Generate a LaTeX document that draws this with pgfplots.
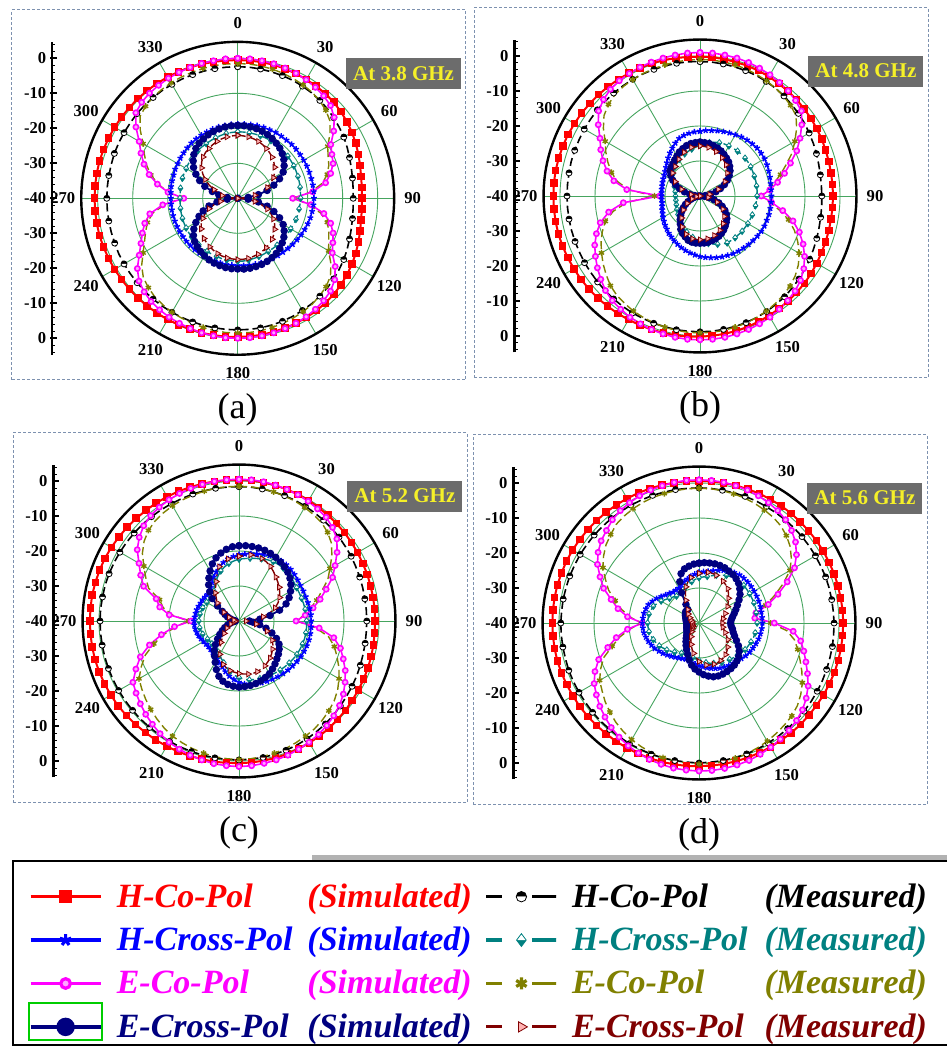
\documentclass[border=0pt]{standalone}
\usepackage{fontspec}
\setmainfont{Liberation Serif}
\usepackage{pgfplots}
\usepackage{pgfplotstable}
\pgfplotsset{compat=1.18}
\usetikzlibrary{plotmarks}

\definecolor{hcsC}{RGB}{255,0,0}
\definecolor{hxsC}{RGB}{0,0,255}
\definecolor{ecsC}{RGB}{255,0,255}
\definecolor{exsC}{RGB}{0,0,128}
\definecolor{hxmC}{RGB}{0,128,128}
\definecolor{ecmC}{RGB}{128,128,0}
\definecolor{exmC}{RGB}{128,0,0}
\definecolor{gridC}{RGB}{70,165,95}
\definecolor{frameC}{RGB}{125,145,175}
\definecolor{boxC}{RGB}{108,108,108}
\definecolor{boxtxt}{RGB}{245,240,40}
\definecolor{legboxC}{RGB}{0,205,0}

\newcommand{\ticklabelfont}{\bfseries\fontsize{8.3}{9}\selectfont}
\newcommand{\boxfont}{\bfseries\fontsize{10.5}{12}\selectfont}
\newcommand{\subfont}{\fontsize{18}{20}\selectfont}
\newcommand{\legfont}{\bfseries\itshape\fontsize{17}{20}\selectfont}

% radiation patterns in dB, one row per 5 degrees (angle clockwise from 0)
% hcs/hxs/ecs/exs: simulated, hcm/hxm/ecm/exm: measured
\pgfplotstableread{
a    hcs   hcm   hxs    hxm    ecs    ecm    exs    exm
0    -0.5  -2.4  -18.8  -21.0  0.0    -1.5   -19.2  -22.0
5    -0.5  -2.4  -18.7  -21.0  0.0    -1.5   -19.2  -22.1
10   -0.5  -2.5  -18.6  -21.0  -0.1   -1.6   -19.3  -22.2
15   -0.5  -2.6  -18.5  -21.0  -0.2   -1.8   -19.4  -22.4
20   -0.6  -2.7  -18.4  -21.0  -0.4   -2.0   -19.6  -22.7
25   -0.7  -2.8  -18.4  -21.0  -0.6   -2.3   -19.9  -23.1
30   -0.8  -3.0  -18.3  -21.0  -0.9   -2.6   -20.3  -23.6
35   -0.9  -3.2  -18.3  -21.0  -1.3   -3.0   -20.8  -24.1
40   -1.0  -3.5  -18.3  -21.1  -1.8   -3.6   -21.3  -24.7
45   -1.2  -3.8  -18.2  -21.2  -2.5   -4.4   -22.0  -25.4
50   -1.5  -4.2  -18.2  -21.3  -4.0   -5.6   -22.8  -26.2
55   -1.9  -4.6  -18.2  -21.4  -6.5   -7.8   -23.8  -27.1
60   -2.3  -5.0  -18.2  -21.5  -9.3   -10.3  -25.0  -28.2
65   -2.8  -5.5  -18.2  -21.6  -10.3  -11.5  -26.8  -29.5
70   -3.3  -6.0  -18.2  -21.7  -11.0  -12.3  -29.0  -31.0
75   -3.8  -6.4  -18.2  -21.8  -12.5  -13.5  -31.3  -33.0
80   -4.2  -6.7  -18.2  -21.9  -14.5  -15.5  -34.0  -35.0
85   -4.4  -6.9  -18.2  -22.0  -18.5  -19.0  -37.0  -37.5
90   -4.5  -7.0  -18.2  -22.0  -24.3  -24.0  -40.0  -40.0
95   -4.4  -6.9  -18.3  -22.1  -19.0  -19.5  -37.0  -37.5
100  -4.2  -6.7  -18.4  -22.2  -15.0  -16.0  -34.0  -35.0
105  -3.8  -6.4  -18.5  -22.2  -12.5  -13.5  -31.3  -33.0
110  -3.3  -6.0  -18.7  -22.3  -11.0  -12.3  -29.0  -31.0
115  -2.8  -5.5  -18.9  -22.4  -10.0  -11.3  -26.8  -29.5
120  -2.3  -5.0  -19.1  -22.5  -8.8   -10.0  -25.0  -28.2
125  -1.9  -4.6  -19.3  -22.5  -6.0   -7.5   -23.8  -27.1
130  -1.5  -4.2  -19.5  -22.5  -3.8   -5.4   -22.8  -26.2
135  -1.2  -3.8  -19.7  -22.5  -2.5   -4.3   -22.0  -25.4
140  -1.0  -3.5  -19.9  -22.5  -1.8   -3.6   -21.3  -24.7
145  -0.8  -3.2  -20.0  -22.5  -1.3   -3.0   -20.8  -24.2
150  -0.7  -3.0  -20.2  -22.5  -0.9   -2.6   -20.4  -23.7
155  -0.6  -2.8  -20.3  -22.4  -0.6   -2.3   -20.1  -23.3
160  -0.5  -2.6  -20.4  -22.3  -0.4   -2.0   -19.9  -23.0
165  -0.5  -2.5  -20.5  -22.2  -0.2   -1.8   -19.8  -22.8
170  -0.4  -2.4  -20.6  -22.1  -0.1   -1.6   -19.7  -22.6
175  -0.4  -2.4  -20.7  -22.0  0.0    -1.5   -19.7  -22.5
180  -0.4  -2.4  -20.8  -22.0  0.0    -1.5   -19.8  -22.5
185  -0.3  -2.4  -20.8  -22.1  0.0    -1.5   -19.8  -22.6
190  -0.3  -2.4  -20.8  -22.1  -0.1   -1.6   -19.9  -22.7
195  -0.2  -2.4  -20.9  -22.2  -0.2   -1.8   -20.1  -22.9
200  -0.2  -2.4  -20.9  -22.3  -0.4   -2.0   -20.3  -23.2
205  -0.1  -2.4  -20.9  -22.4  -0.6   -2.2   -20.6  -23.6
210  0.0   -2.4  -20.9  -22.5  -0.8   -2.4   -21.0  -24.0
215  0.1   -2.4  -20.9  -22.6  -1.1   -2.8   -21.5  -24.5
220  0.2   -2.4  -20.9  -22.7  -1.5   -3.2   -22.0  -25.0
225  0.3   -2.4  -20.9  -22.8  -2.2   -3.9   -22.6  -25.6
230  0.4   -2.5  -20.9  -22.8  -3.2   -4.8   -23.5  -26.4
235  0.5   -2.5  -20.9  -22.9  -5.0   -6.5   -24.7  -27.3
240  0.6   -2.5  -20.9  -23.0  -7.5   -8.8   -26.2  -28.5
245  0.7   -2.5  -20.9  -23.1  -9.5   -10.6  -27.8  -29.8
250  0.8   -2.6  -20.9  -23.2  -11.0  -12.0  -29.5  -31.3
255  0.9   -2.6  -20.9  -23.3  -12.5  -13.3  -31.5  -33.0
260  0.9   -2.6  -20.9  -23.4  -14.5  -15.3  -34.0  -35.0
265  0.9   -2.6  -20.9  -23.5  -18.5  -19.0  -37.0  -37.5
270  0.9   -2.6  -20.9  -23.5  -24.6  -24.0  -40.0  -40.0
275  0.9   -2.6  -20.8  -23.5  -20.0  -20.0  -37.0  -37.5
280  0.9   -2.6  -20.7  -23.4  -16.7  -17.0  -34.5  -35.5
285  0.9   -2.6  -20.6  -23.3  -13.8  -14.3  -32.5  -34.5
290  0.8   -2.5  -20.5  -23.2  -11.5  -12.3  -30.0  -32.8
295  0.7   -2.5  -20.3  -23.1  -9.5   -10.6  -28.0  -31.0
300  0.6   -2.5  -20.2  -23.0  -7.5   -8.8   -26.2  -29.3
305  0.5   -2.5  -20.0  -22.8  -4.5   -6.0   -24.6  -27.8
310  0.4   -2.4  -19.8  -22.7  -2.0   -3.6   -23.4  -26.5
315  0.3   -2.4  -19.6  -22.5  -1.2   -2.8   -22.3  -25.4
320  0.2   -2.4  -19.4  -22.3  -0.8   -2.3   -21.4  -24.6
325  0.1   -2.4  -19.3  -22.1  -0.6   -2.1   -20.8  -24.0
330  0.0   -2.4  -19.2  -22.0  -0.4   -1.9   -20.4  -23.6
335  -0.1  -2.4  -19.1  -21.8  -0.3   -1.8   -20.0  -23.1
340  -0.2  -2.4  -19.0  -21.6  -0.2   -1.7   -19.7  -22.7
345  -0.3  -2.4  -18.9  -21.4  -0.1   -1.6   -19.5  -22.4
350  -0.4  -2.4  -18.9  -21.2  -0.1   -1.5   -19.3  -22.2
355  -0.5  -2.4  -18.8  -21.1  0.0    -1.5   -19.2  -22.1
360  -0.5  -2.4  -18.8  -21.0  0.0    -1.5   -19.2  -22.0
}\patA

\pgfplotstableread{
a    hcs   hcm   hxs    hxm    ecs    ecm    exs    exm
0    -0.2  -1.6  -21.5  -25.5  1.0    -1.0   -24.6  -25.7
5    -0.2  -1.6  -21.2  -25.0  1.0    -1.0   -24.7  -25.8
10   -0.3  -1.7  -21.0  -24.5  0.9    -1.1   -24.8  -25.9
15   -0.4  -1.8  -20.7  -24.1  0.8    -1.2   -25.1  -26.2
20   -0.4  -1.9  -20.4  -23.8  0.6    -1.4   -25.4  -26.5
25   -0.5  -2.0  -20.1  -23.6  0.3    -1.7   -25.8  -26.9
30   -0.6  -2.2  -19.8  -23.5  0.0    -2.0   -26.3  -27.4
35   -0.8  -2.4  -19.4  -23.4  -0.4   -2.4   -26.8  -27.9
40   -0.9  -2.7  -19.1  -23.3  -0.8   -2.8   -27.3  -28.4
45   -1.0  -3.0  -18.9  -23.2  -1.4   -3.4   -28.0  -29.0
50   -1.2  -3.3  -18.7  -23.2  -2.2   -4.2   -28.8  -29.8
55   -1.3  -3.6  -18.7  -23.2  -4.5   -6.3   -29.8  -30.7
60   -1.5  -4.0  -18.7  -23.3  -7.0   -8.7   -31.0  -31.8
65   -1.6  -4.3  -18.9  -23.4  -9.5   -11.0  -32.3  -33.0
70   -1.8  -4.6  -19.1  -23.5  -12.5  -13.8  -33.8  -34.4
75   -1.9  -4.9  -19.3  -23.5  -15.0  -16.2  -35.3  -35.8
80   -2.0  -5.1  -19.5  -23.6  -17.5  -18.5  -36.9  -37.2
85   -2.0  -5.2  -19.6  -23.6  -20.0  -20.5  -38.5  -38.6
90   -2.0  -5.2  -19.6  -23.7  -22.5  -22.5  -40.0  -40.0
95   -2.0  -5.1  -19.6  -23.8  -19.5  -20.0  -38.7  -38.9
100  -2.0  -5.0  -19.6  -23.9  -16.0  -17.0  -37.3  -37.6
105  -1.9  -4.8  -19.6  -24.0  -12.5  -13.8  -35.8  -36.2
110  -1.8  -4.5  -19.7  -24.1  -9.8   -11.3  -34.3  -34.8
115  -1.7  -4.2  -19.7  -24.2  -7.5   -9.2   -33.0  -33.6
120  -1.5  -3.8  -19.8  -24.2  -5.5   -7.3   -31.8  -32.5
125  -1.3  -3.5  -20.0  -24.3  -3.8   -5.7   -30.8  -31.6
130  -1.1  -3.1  -20.2  -24.3  -2.5   -4.5   -30.0  -30.9
135  -1.0  -2.8  -20.4  -24.4  -1.6   -3.6   -29.4  -30.3
140  -0.8  -2.4  -20.6  -24.4  -1.0   -3.0   -28.8  -29.7
145  -0.7  -2.2  -20.8  -24.5  -0.5   -2.5   -28.2  -29.2
150  -0.5  -1.9  -21.0  -24.5  0.0    -2.0   -27.7  -28.7
155  -0.4  -1.7  -21.3  -24.9  0.3    -1.7   -27.3  -28.3
160  -0.2  -1.5  -21.5  -25.3  0.6    -1.4   -27.0  -28.0
165  -0.1  -1.4  -21.8  -25.8  0.8    -1.2   -26.8  -27.8
170  0.0   -1.3  -22.1  -26.2  1.0    -1.0   -26.6  -27.6
175  0.1   -1.2  -22.4  -26.6  1.1    -0.9   -26.5  -27.5
180  0.2   -1.2  -22.7  -27.0  1.1    -0.9   -26.5  -27.5
185  0.3   -1.2  -23.1  -27.5  1.1    -0.9   -26.5  -27.5
190  0.4   -1.2  -23.5  -28.0  1.0    -1.0   -26.6  -27.6
195  0.5   -1.3  -23.9  -28.5  0.8    -1.2   -26.9  -27.9
200  0.6   -1.3  -24.3  -29.0  0.6    -1.4   -27.6  -28.4
205  0.7   -1.4  -24.8  -29.5  0.3    -1.7   -28.2  -29.0
210  0.8   -1.4  -25.2  -30.0  0.0    -2.0   -29.0  -29.8
215  1.0   -1.5  -25.7  -30.5  -0.5   -2.5   -30.2  -30.8
220  1.1   -1.6  -26.1  -31.0  -1.0   -3.0   -31.2  -31.8
225  1.3   -1.7  -26.6  -31.4  -1.8   -3.8   -32.2  -32.8
230  1.4   -1.8  -27.0  -31.8  -3.0   -5.0   -33.2  -33.8
235  1.5   -1.9  -27.4  -32.1  -4.2   -6.2   -34.2  -34.8
240  1.6   -1.9  -27.8  -32.4  -5.5   -7.5   -35.2  -35.8
245  1.7   -2.0  -28.2  -32.6  -6.8   -8.8   -36.2  -36.8
250  1.8   -2.0  -28.5  -32.8  -8.5   -10.3  -37.2  -37.6
255  1.9   -2.0  -28.8  -32.9  -10.5  -12.0  -38.0  -38.4
260  1.9   -2.0  -29.0  -33.0  -13.5  -14.8  -38.8  -39.0
265  1.9   -2.0  -29.0  -33.0  -18.0  -19.0  -39.4  -39.5
270  1.9   -2.0  -29.0  -33.0  -28.5  -27.0  -40.0  -40.0
275  1.9   -2.0  -29.0  -32.9  -19.0  -19.5  -38.5  -38.8
280  1.9   -2.0  -28.9  -32.8  -15.0  -16.0  -37.0  -37.4
285  1.8   -1.9  -28.8  -32.5  -12.5  -13.8  -35.4  -35.9
290  1.7   -1.9  -28.6  -32.2  -10.5  -12.0  -33.8  -34.4
295  1.6   -1.9  -28.4  -31.6  -8.7   -10.3  -32.3  -33.0
300  1.4   -1.8  -28.2  -31.0  -7.0   -8.7   -31.0  -31.8
305  1.3   -1.8  -27.8  -30.5  -4.5   -6.3   -29.8  -30.7
310  1.1   -1.7  -27.3  -30.0  -2.2   -4.2   -28.8  -29.8
315  1.0   -1.7  -26.6  -29.5  -1.0   -3.0   -28.4  -29.4
320  0.8   -1.6  -25.8  -29.0  -0.2   -2.2   -28.0  -29.0
325  0.7   -1.6  -25.0  -28.5  0.2    -1.8   -27.4  -28.5
330  0.5   -1.5  -24.2  -28.0  0.4    -1.6   -26.8  -27.9
335  0.4   -1.5  -23.3  -27.6  0.6    -1.4   -26.1  -27.2
340  0.3   -1.5  -22.5  -27.2  0.7    -1.3   -25.6  -26.7
345  0.2   -1.5  -22.1  -26.8  0.8    -1.2   -25.1  -26.2
350  0.0   -1.5  -21.8  -26.4  0.9    -1.1   -24.8  -25.9
355  -0.1  -1.5  -21.6  -26.0  1.0    -1.0   -24.7  -25.8
360  -0.2  -1.6  -21.5  -25.5  1.0    -1.0   -24.6  -25.7
}\patB

\pgfplotstableread{
a    hcs   hcm   hxs    hxm    ecs    ecm    exs    exm
0    0.3   -1.6  -21.0  -22.3  0.5    -1.5   -18.5  -21.5
5    0.3   -1.6  -20.8  -22.1  0.5    -1.5   -18.4  -21.1
10   0.2   -1.7  -20.5  -21.8  0.4    -1.6   -18.4  -20.8
15   0.1   -1.8  -20.2  -21.5  0.2    -1.8   -18.4  -20.8
20   0.0   -1.9  -19.8  -21.1  0.0    -2.0   -18.5  -21.0
25   -0.1  -2.0  -19.4  -20.7  -0.2   -2.2   -18.7  -21.4
30   -0.2  -2.1  -19.1  -20.4  -0.5   -2.5   -19.0  -22.0
35   -0.4  -2.3  -19.0  -20.3  -0.9   -2.9   -19.4  -22.8
40   -0.5  -2.4  -19.0  -20.3  -1.3   -3.3   -19.8  -23.6
45   -0.6  -2.6  -19.1  -20.4  -2.2   -4.2   -20.3  -24.3
50   -0.7  -2.7  -19.3  -20.6  -3.5   -5.5   -21.0  -25.0
55   -0.8  -2.9  -19.5  -20.8  -5.8   -7.6   -21.9  -25.8
60   -0.9  -3.0  -19.7  -21.0  -8.3   -10.0  -23.0  -26.6
65   -1.0  -3.2  -19.7  -21.0  -10.5  -12.0  -24.2  -27.7
70   -1.0  -3.3  -19.7  -21.0  -13.5  -14.8  -25.7  -29.0
75   -1.1  -3.4  -19.6  -20.9  -16.0  -17.0  -28.0  -30.8
80   -1.1  -3.5  -19.5  -20.8  -18.5  -19.3  -31.0  -33.0
85   -1.1  -3.5  -19.4  -20.7  -21.0  -21.5  -34.0  -35.5
90   -1.1  -3.5  -19.4  -20.7  -23.7  -23.5  -37.0  -38.0
95   -1.1  -3.5  -19.3  -20.6  -17.0  -18.0  -36.0  -36.5
100  -1.0  -3.4  -19.3  -20.6  -12.5  -14.0  -34.0  -35.0
105  -0.9  -3.3  -19.3  -20.6  -10.0  -11.8  -32.0  -33.2
110  -0.8  -3.1  -19.4  -20.7  -8.3   -10.2  -30.0  -31.5
115  -0.7  -2.9  -19.5  -20.8  -6.5   -8.5   -28.2  -30.2
120  -0.6  -2.7  -19.6  -20.9  -5.0   -7.0   -26.8  -29.0
125  -0.5  -2.5  -19.8  -21.1  -3.6   -5.6   -26.0  -28.2
130  -0.3  -2.2  -20.0  -21.3  -2.5   -4.5   -25.3  -27.5
135  -0.2  -1.9  -20.2  -21.5  -1.7   -3.7   -24.7  -26.8
140  0.0   -1.6  -20.4  -21.7  -1.0   -3.0   -24.0  -26.2
145  0.1   -1.4  -20.6  -21.9  -0.4   -2.4   -23.3  -25.7
150  0.2   -1.1  -20.8  -22.1  0.0    -2.0   -22.6  -25.2
155  0.3   -0.9  -21.0  -22.3  0.4    -1.6   -22.2  -24.9
160  0.4   -0.7  -21.2  -22.5  0.8    -1.2   -21.8  -24.6
165  0.5   -0.6  -21.4  -22.7  1.1    -0.9   -21.5  -24.5
170  0.5   -0.4  -21.6  -22.9  1.3    -0.7   -21.3  -24.6
175  0.6   -0.4  -22.0  -23.3  1.5    -0.5   -21.2  -24.8
180  0.6   -0.3  -22.5  -23.8  1.6    -0.4   -21.1  -25.0
185  0.7   -0.3  -23.2  -24.5  1.5    -0.5   -21.3  -25.3
190  0.8   -0.3  -24.0  -25.3  1.4    -0.6   -21.6  -25.6
195  0.9   -0.3  -25.0  -26.3  1.1    -0.9   -22.2  -26.1
200  1.0   -0.3  -26.0  -27.3  0.8    -1.2   -23.2  -26.8
205  1.2   -0.3  -26.8  -28.1  0.4    -1.6   -24.7  -27.8
210  1.3   -0.3  -27.5  -28.8  0.0    -2.0   -26.4  -29.0
215  1.5   -0.3  -28.0  -29.3  -0.7   -2.7   -27.8  -30.5
220  1.6   -0.3  -28.3  -29.6  -1.5   -3.5   -29.0  -32.0
225  1.8   -0.3  -28.5  -29.8  -2.3   -4.3   -30.5  -33.3
230  2.0   -0.3  -28.6  -29.9  -3.2   -5.2   -32.0  -34.5
235  2.2   -0.3  -28.5  -29.8  -4.1   -6.1   -33.3  -35.3
240  2.3   -0.3  -28.3  -29.6  -5.0   -7.0   -34.5  -36.0
245  2.4   -0.3  -28.0  -29.3  -7.5   -9.2   -35.5  -36.8
250  2.5   -0.3  -27.7  -29.0  -10.0  -11.5  -36.5  -37.5
255  2.6   -0.3  -27.5  -28.8  -13.5  -14.8  -37.3  -38.0
260  2.6   -0.3  -27.3  -28.6  -17.5  -18.3  -38.0  -38.5
265  2.6   -0.3  -27.2  -28.5  -21.5  -22.0  -38.6  -38.8
270  2.6   -0.3  -27.2  -28.5  -26.3  -25.5  -39.0  -39.0
275  2.6   -0.3  -27.3  -28.6  -20.0  -21.0  -38.6  -38.8
280  2.6   -0.4  -27.4  -28.7  -17.0  -18.0  -38.0  -38.5
285  2.5   -0.4  -27.5  -28.8  -15.5  -16.5  -37.3  -37.8
290  2.4   -0.5  -27.7  -29.0  -11.0  -12.5  -36.5  -37.0
295  2.3   -0.6  -27.9  -29.2  -9.0   -10.6  -35.6  -36.0
300  2.1   -0.7  -28.0  -29.3  -7.0   -8.6   -34.5  -35.0
305  1.9   -0.8  -28.1  -29.4  -4.5   -6.3   -32.5  -33.5
310  1.7   -0.9  -28.2  -29.5  -2.8   -4.6   -30.0  -32.0
315  1.5   -1.0  -28.0  -29.3  -1.5   -3.4   -28.2  -30.8
320  1.3   -1.1  -27.5  -28.8  -0.7   -2.7   -26.5  -29.5
325  1.2   -1.2  -26.6  -27.9  -0.3   -2.3   -25.0  -28.3
330  1.0   -1.3  -25.5  -26.8  0.0    -2.0   -23.5  -27.0
335  0.9   -1.4  -24.5  -25.8  0.2    -1.8   -22.0  -25.2
340  0.7   -1.4  -23.5  -24.8  0.3    -1.7   -20.8  -23.5
345  0.6   -1.5  -22.7  -24.0  0.4    -1.6   -19.9  -22.7
350  0.5   -1.5  -22.0  -23.3  0.5    -1.5   -19.2  -22.0
355  0.4   -1.6  -21.5  -22.8  0.5    -1.5   -18.7  -21.7
360  0.3   -1.6  -21.0  -22.3  0.5    -1.5   -18.5  -21.5
}\patC

\pgfplotstableread{
a    hcs   hcm   hxs    hxm    ecs    ecm    exs    exm
0    0.6   -1.4  -25.5  -27.0  0.9    -1.5   -22.9  -25.8
5    0.6   -1.4  -25.3  -26.8  0.9    -1.5   -22.7  -25.5
10   0.6   -1.5  -25.0  -26.5  0.8    -1.6   -22.6  -25.3
15   0.7   -1.5  -24.5  -26.0  0.6    -1.8   -22.5  -25.3
20   0.7   -1.5  -24.0  -25.5  0.4    -2.0   -22.5  -25.5
25   0.8   -1.5  -23.4  -24.9  0.1    -2.3   -22.6  -25.8
30   0.8   -1.6  -22.8  -24.3  -0.3   -2.7   -22.9  -26.2
35   0.9   -1.6  -22.4  -23.9  -0.8   -3.1   -23.1  -26.7
40   0.9   -1.6  -22.0  -23.5  -1.5   -3.7   -23.5  -27.2
45   0.9   -1.6  -21.9  -23.4  -2.6   -4.7   -24.0  -28.1
50   0.9   -1.6  -21.8  -23.3  -4.0   -6.0   -24.8  -29.0
55   1.0   -1.6  -21.8  -23.3  -6.0   -7.8   -25.7  -29.8
60   1.0   -1.6  -21.8  -23.3  -8.5   -10.0  -26.8  -30.6
65   1.0   -1.6  -21.8  -23.3  -12.2  -13.5  -27.9  -31.3
70   1.1   -1.5  -21.8  -23.3  -16.0  -17.0  -28.8  -32.0
75   1.1   -1.5  -21.8  -23.3  -19.5  -20.3  -29.6  -32.5
80   1.1   -1.5  -21.9  -23.4  -23.5  -23.8  -30.3  -33.0
85   1.2   -1.5  -21.9  -23.4  -24.0  -24.0  -30.8  -33.2
90   1.2   -1.4  -21.9  -23.4  -18.5  -19.5  -31.0  -33.3
95   1.2   -1.4  -22.0  -23.5  -13.0  -14.8  -30.8  -33.2
100  1.2   -1.3  -22.2  -23.7  -10.5  -12.3  -30.3  -33.1
105  1.2   -1.3  -22.4  -23.9  -9.0   -10.8  -29.9  -32.6
110  1.2   -1.2  -22.7  -24.2  -7.5   -9.3   -29.2  -32.0
115  1.1   -1.1  -23.0  -24.5  -5.8   -7.6   -28.2  -31.3
120  1.1   -1.0  -23.3  -24.8  -4.0   -5.9   -27.0  -30.5
125  1.0   -0.9  -23.7  -25.2  -2.6   -4.5   -26.0  -29.9
130  1.0   -0.8  -24.2  -25.7  -1.4   -3.3   -25.2  -29.3
135  1.0   -0.7  -24.5  -26.0  -0.6   -2.5   -24.7  -28.7
140  1.0   -0.6  -24.9  -26.4  0.0    -2.0   -24.3  -28.2
145  0.9   -0.5  -25.2  -26.7  0.5    -1.5   -24.1  -27.9
150  0.9   -0.4  -25.5  -27.0  1.0    -1.0   -24.0  -27.6
155  0.9   -0.3  -25.8  -27.3  1.4    -0.6   -23.9  -27.5
160  0.9   -0.2  -26.2  -27.7  1.8    -0.2   -23.9  -27.5
165  0.9   -0.2  -26.6  -28.1  2.0    0.0    -24.1  -27.6
170  0.9   -0.1  -27.0  -28.5  2.2    0.2    -24.6  -27.8
175  0.9   -0.1  -27.4  -28.9  2.3    0.3    -25.2  -28.3
180  0.9   0.0   -27.8  -29.3  2.3    0.3    -26.0  -29.0
185  1.0   -0.1  -28.2  -29.7  2.2    0.2    -26.8  -30.1
190  1.0   -0.1  -28.5  -30.0  2.1    0.1    -27.8  -31.2
195  1.1   -0.1  -28.8  -30.3  1.8    -0.2   -29.1  -32.3
200  1.1   -0.1  -29.0  -30.5  1.5    -0.5   -30.5  -33.5
205  1.2   -0.2  -28.8  -30.3  1.0    -1.0   -31.6  -34.5
210  1.2   -0.2  -28.5  -30.0  0.5    -1.5   -32.6  -35.5
215  1.3   -0.3  -28.1  -29.6  -0.2   -2.2   -33.5  -36.2
220  1.3   -0.3  -27.6  -29.1  -1.0   -3.0   -34.3  -36.8
225  1.4   -0.3  -27.1  -28.6  -2.0   -4.0   -35.0  -37.2
230  1.5   -0.3  -26.5  -28.0  -3.0   -5.0   -35.5  -37.5
235  1.6   -0.4  -26.0  -27.5  -4.2   -6.2   -35.8  -37.8
240  1.6   -0.4  -25.4  -26.9  -5.4   -7.2   -36.0  -38.0
245  1.7   -0.4  -25.0  -26.5  -7.2   -9.0   -36.2  -38.0
250  1.8   -0.4  -24.6  -26.1  -9.5   -11.0  -36.3  -38.0
255  1.9   -0.5  -24.3  -25.8  -13.0  -14.3  -36.4  -38.0
260  1.9   -0.5  -24.0  -25.5  -16.0  -17.0  -36.5  -38.0
265  1.9   -0.5  -23.9  -25.4  -19.5  -20.2  -36.5  -38.0
270  1.9   -0.5  -23.8  -25.3  -23.8  -23.5  -36.5  -38.0
275  1.9   -0.6  -23.9  -25.4  -19.5  -20.2  -36.4  -38.0
280  1.9   -0.6  -24.0  -25.5  -16.5  -17.5  -36.3  -38.0
285  1.9   -0.7  -24.3  -25.8  -14.0  -15.2  -36.2  -37.8
290  1.8   -0.7  -24.6  -26.1  -11.0  -12.5  -36.0  -37.5
295  1.8   -0.8  -25.3  -26.8  -8.8   -10.5  -35.8  -37.3
300  1.7   -0.8  -26.0  -27.5  -6.5   -8.3   -35.5  -37.0
305  1.6   -0.9  -26.8  -28.3  -4.8   -6.7   -35.3  -36.5
310  1.5   -0.9  -27.5  -29.0  -3.5   -5.3   -35.0  -36.0
315  1.4   -1.0  -28.0  -29.5  -2.6   -4.3   -35.0  -35.5
320  1.3   -1.0  -28.5  -30.0  -1.5   -3.2   -35.0  -35.0
325  1.2   -1.1  -28.5  -30.0  -0.8   -2.7   -33.5  -33.8
330  1.1   -1.1  -28.5  -30.0  -0.3   -2.3   -30.0  -32.5
335  1.0   -1.2  -28.0  -29.5  0.1    -2.0   -27.0  -30.8
340  0.9   -1.2  -27.5  -29.0  0.4    -1.8   -25.0  -29.0
345  0.8   -1.3  -27.0  -28.5  0.6    -1.7   -24.0  -27.8
350  0.7   -1.3  -26.5  -28.0  0.8    -1.6   -23.5  -26.8
355  0.7   -1.4  -26.0  -27.5  0.9    -1.5   -23.1  -26.2
360  0.6   -1.4  -25.5  -27.0  0.9    -1.5   -22.9  -25.8
}\patD

\pgfplotsset{
  % polar pattern column -> cartesian point; centre of the chart is -40 dB
  table/polar col/.style={
    x expr={(\thisrow{#1}+40)*sin(\thisrow{a})},
    y expr={(\thisrow{#1}+40)*cos(\thisrow{a})}},
  hcs/.style={hcsC, line width=1pt, mark=square*, mark size=1.4pt,
    mark options={solid, fill=hcsC}},
  hcm/.style={black, line width=0.8pt, dash pattern=on 4pt off 2pt,
    mark=halfcircle*, mark size=1.5pt, mark repeat=2,
    mark options={solid, fill=black, line width=0.4pt}},
  hxs/.style={hxsC, line width=0.7pt, mark=star, mark size=1.5pt,
    mark options={solid}},
  hxm/.style={hxmC, line width=0.7pt, dash pattern=on 4pt off 2pt,
    mark=halfdiamond*, mark size=1.6pt, mark repeat=2,
    mark options={solid, fill=hxmC, line width=0.4pt}},
  ecs/.style={ecsC, line width=0.8pt, mark=*, mark size=1.3pt,
    mark options={solid, fill=ecsC!35!white}},
  ecm/.style={ecmC, line width=0.7pt, dash pattern=on 4pt off 2pt,
    mark=asterisk, mark size=1.5pt, mark repeat=3, mark options={solid}},
  exs/.style={exsC, line width=0.9pt, mark=*, mark size=1.4pt,
    mark options={solid, fill=exsC}},
  exm/.style={exmC, line width=0.7pt, dash pattern=on 4pt off 2pt,
    mark=triangle*, mark size=1.6pt, mark repeat=2,
    mark options={solid, rotate=-90, fill=red!30!white, line width=0.4pt}},
  polarplot/.style={hide axis, x=1.75pt, y=1.75pt,
    xmin=-60, xmax=60, ymin=-60, ymax=60, clip=false, anchor=center},
}

% dashed frame, grid, angle labels, dB scale and captions of one panel
\newcommand{\polarbackdrop}[4]{%
\begin{scope}[shift={(#1,#2)}, x=1.75pt, y=1.75pt]
  \draw[frameC, line width=0.5pt, dash pattern=on 1.5pt off 1pt]
    (-64.5,-51.9) rectangle (65.2,53.8);
  \foreach \pr in {10,20,30,40} {\draw[gridC, line width=0.45pt] (0,0) circle[radius=\pr];}
  \foreach \pa in {0,30,...,330} {\draw[gridC, line width=0.45pt] (0,0) -- ({44.7*sin(\pa)},{44.7*cos(\pa)});}
  \draw[black, line width=1.2pt] (0,0) circle[radius=44.7];
  \foreach \pa in {0,30,...,330} {\node[font=\ticklabelfont, inner sep=0pt] at ({50*sin(\pa)},{50*cos(\pa)}) {\pa};}
  \draw[black, line width=1.1pt] (-53,-44.7) -- (-53,44.7);
  \foreach \pv in {-44,-42,...,44} {\draw[black, line width=0.5pt] (-53,\pv) -- (-52.1,\pv);}
  \foreach \pv/\pl in {40/0,30/-10,20/-20,10/-30,0/-40,-10/-30,-20/-20,-30/-10,-40/0}
    {\draw[black, line width=0.8pt] (-53.5,\pv) -- (-51.5,\pv);
     \node[anchor=east, font=\ticklabelfont, inner sep=0pt] at (-54.6,\pv) {\pl};}
  \node[fill=boxC, text=boxtxt, font=\boxfont, minimum width=57.5pt,
        minimum height=15.5pt, inner sep=0pt] at (47.4,35.7) {#3};
  \node[font=\subfont] at (0,-60.5) {(#4)};
\end{scope}}

\newcommand{\patterncurves}[1]{%
  \addplot[hcs] table[polar col=hcs] {#1};
  \addplot[hcm] table[polar col=hcm] {#1};
  \addplot[ecm] table[polar col=ecm] {#1};
  \addplot[ecs] table[polar col=ecs] {#1};
  \addplot[hxs] table[polar col=hxs] {#1};
  \addplot[hxm] table[polar col=hxm] {#1};
  \addplot[exs] table[polar col=exs] {#1};
  \addplot[exm] table[polar col=exm] {#1};
}

\begin{document}
\begin{tikzpicture}
\path[use as bounding box] (0pt,0pt) rectangle (473.5pt,-523.5pt);

\polarbackdrop{118.85pt}{-99.15pt}{At 3.8 GHz}{a}
\polarbackdrop{350pt}{-98pt}{At 4.8 GHz}{b}
\polarbackdrop{119.5pt}{-310.5pt}{At 5.2 GHz}{c}
\polarbackdrop{349.5pt}{-311.5pt}{At 5.6 GHz}{d}

\begin{axis}[polarplot, at={(118.85pt,-99.15pt)}]
\patterncurves{\patA}
\end{axis}
\begin{axis}[polarplot, at={(350pt,-98pt)}]
\patterncurves{\patB}
\end{axis}
\begin{axis}[polarplot, at={(119.5pt,-310.5pt)}]
\patterncurves{\patC}
\end{axis}
\begin{axis}[polarplot, at={(349.5pt,-311.5pt)}]
\patterncurves{\patD}
\end{axis}

% legend frame
\fill[black!30] (156pt,-427.5pt) rectangle (473.5pt,-430.5pt);
\draw[black, line width=1pt] (473.5pt,-430.5pt) -- (6.5pt,-430.5pt)
  -- (6.5pt,-522.5pt) -- (473.5pt,-522.5pt);
\draw[legboxC, line width=0.6pt] (14.5pt,-501.5pt) rectangle (51pt,-520pt);

\begin{axis}[hide axis, scale only axis, width=470pt, height=92pt,
  at={(6.5pt,-430.5pt)}, anchor=north west,
  xmin=0, xmax=1, ymin=0, ymax=1,
  legend columns=2, legend cell align=left,
  legend image code/.code={\draw[#1, mark repeat=2, mark phase=2]
    plot coordinates {(0pt,0pt) (17.5pt,0pt) (35pt,0pt)};},
  legend style={at={(0,1)}, anchor=north west, xshift=7.5pt, yshift=-9pt,
    draw=none, fill=none, inner sep=0pt, font=\legfont, row sep=4.4pt,
    /tikz/every odd column/.append style={column sep=5pt},
    /tikz/every even column/.append style={column sep=4.5pt}}]
\addlegendimage{hcs, line width=1.6pt, mark size=2.5pt}
\addlegendentry{\textcolor{hcsC}{\makebox[177.5pt][l]{H-Co-Pol\hfill(Simulated)}}}
\addlegendimage{hcm, line width=1.6pt, dash pattern=on 8pt off 15pt on 12pt off 0pt, mark size=2.6pt}
\addlegendentry{\textcolor{black}{\makebox[177.5pt][l]{H-Co-Pol\hfill(Measured)}}}
\addlegendimage{hxs, line width=1.6pt, mark size=3pt}
\addlegendentry{\textcolor{hxsC}{\makebox[177.5pt][l]{H-Cross-Pol\hfill(Simulated)}}}
\addlegendimage{hxm, line width=1.6pt, dash pattern=on 8pt off 15pt on 12pt off 0pt, mark size=3.2pt}
\addlegendentry{\textcolor{hxmC}{\makebox[177.5pt][l]{H-Cross-Pol\hfill(Measured)}}}
\addlegendimage{ecs, line width=1.6pt, mark size=2.4pt}
\addlegendentry{\textcolor{ecsC}{\makebox[177.5pt][l]{E-Co-Pol\hfill(Simulated)}}}
\addlegendimage{ecm, line width=1.6pt, dash pattern=on 8pt off 15pt on 12pt off 0pt, mark size=3pt}
\addlegendentry{\textcolor{ecmC}{\makebox[177.5pt][l]{E-Co-Pol\hfill(Measured)}}}
\addlegendimage{exs, line width=2.2pt, mark size=3.5pt}
\addlegendentry{\textcolor{exsC}{\makebox[177.5pt][l]{E-Cross-Pol\hfill(Simulated)}}}
\addlegendimage{exm, line width=1.6pt, dash pattern=on 8pt off 15pt on 12pt off 0pt, mark size=3pt}
\addlegendentry{\textcolor{exmC}{\makebox[177.5pt][l]{E-Cross-Pol\hfill(Measured)}}}
\end{axis}
\end{tikzpicture}
\end{document}
